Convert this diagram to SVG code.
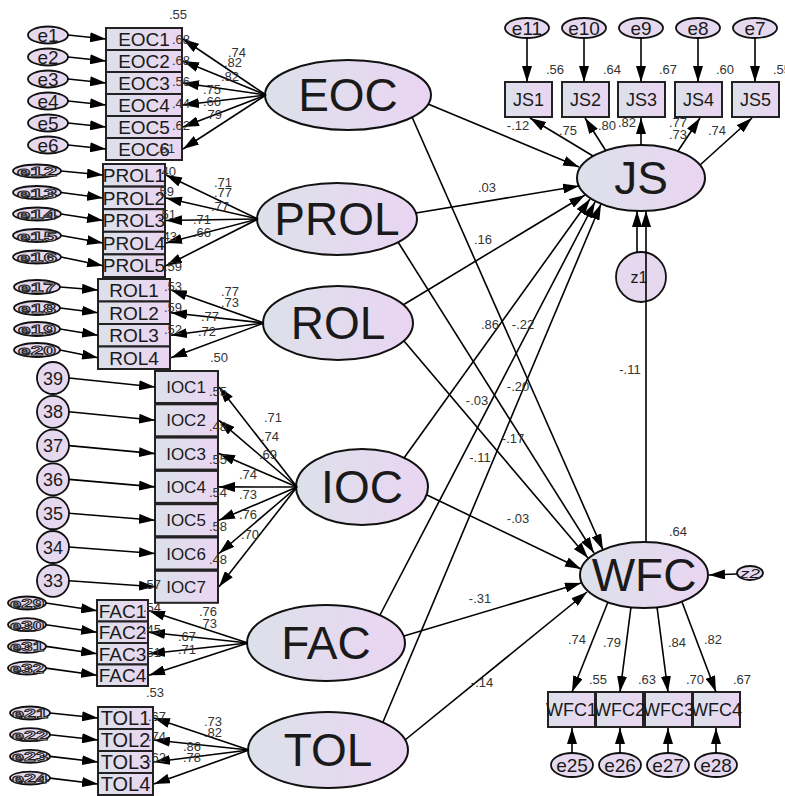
<svg xmlns="http://www.w3.org/2000/svg" width="785" height="796" viewBox="0 0 785 796">
<style>
text{font-family:"Liberation Sans",Arial,sans-serif;fill:#1a1a1a;text-anchor:middle}
.lat{fill:url(#g);stroke:#111;stroke-width:2}
.box{fill:url(#g);stroke:#222;stroke-width:2}
.err{fill:#e6d9ef;stroke:#111;stroke-width:1.8}
.big{font-size:46px}
.ind{font-size:19px}
.sq{font-size:13px;font-weight:bold;fill:#e9dcf2;stroke:#222;stroke-width:0.9}
.l{font-size:13px;fill:#333}
#conn line{stroke:#000;stroke-width:1.6;marker-end:url(#a)}
</style>
<defs>
<linearGradient id="g" x1="0" y1="0" x2="1" y2="0">
<stop offset="0" stop-color="#dce1ea"/>
<stop offset="1" stop-color="#ead5f2"/>
</linearGradient>
<marker id="a" viewBox="0 0 16 10" refX="16" refY="5" markerWidth="16" markerHeight="10" orient="auto" markerUnits="userSpaceOnUse">
<path d="M0,0L16,5L0,10z" fill="#000"/>
</marker>
</defs>
<rect width="785" height="796" fill="#fff"/>

<!-- EOC block -->
<g id="EOC1"><rect class="box" x="106" y="28" width="76" height="22"/><text class="ind" x="144" y="46">EOC1</text></g>
<g id="EOC2"><rect class="box" x="106" y="50" width="76" height="22"/><text class="ind" x="144" y="68">EOC2</text></g>
<g id="EOC3"><rect class="box" x="106" y="72" width="76" height="22"/><text class="ind" x="144" y="90">EOC3</text></g>
<g id="EOC4"><rect class="box" x="106" y="94" width="76" height="22"/><text class="ind" x="144" y="112">EOC4</text></g>
<g id="EOC5"><rect class="box" x="106" y="116" width="76" height="22"/><text class="ind" x="144" y="134">EOC5</text></g>
<g id="EOC6"><rect class="box" x="106" y="138" width="76" height="22"/><text class="ind" x="144" y="156">EOC6</text></g>
<g id="e1"><ellipse class="err" cx="48" cy="35" rx="20" ry="8.5"/><text class="ind" x="48" y="42">e1</text></g>
<g id="e2"><ellipse class="err" cx="48" cy="57" rx="20" ry="8.5"/><text class="ind" x="48" y="64">e2</text></g>
<g id="e3"><ellipse class="err" cx="48" cy="79" rx="20" ry="8.5"/><text class="ind" x="48" y="86">e3</text></g>
<g id="e4"><ellipse class="err" cx="48" cy="101" rx="20" ry="8.5"/><text class="ind" x="48" y="108">e4</text></g>
<g id="e5"><ellipse class="err" cx="48" cy="123" rx="20" ry="8.5"/><text class="ind" x="48" y="130">e5</text></g>
<g id="e6"><ellipse class="err" cx="48" cy="145" rx="20" ry="8.5"/><text class="ind" x="48" y="152">e6</text></g>

<!-- PROL block -->
<g id="PROL1"><rect class="box" x="103" y="164" width="62" height="22.6"/><text class="ind" x="134" y="182">PROL1</text></g>
<g id="PROL2"><rect class="box" x="103" y="186.6" width="62" height="22.6"/><text class="ind" x="134" y="205">PROL2</text></g>
<g id="PROL3"><rect class="box" x="103" y="209.2" width="62" height="22.6"/><text class="ind" x="134" y="227">PROL3</text></g>
<g id="PROL4"><rect class="box" x="103" y="231.8" width="62" height="22.6"/><text class="ind" x="134" y="250">PROL4</text></g>
<g id="PROL5"><rect class="box" x="103" y="254.4" width="62" height="22.6"/><text class="ind" x="134" y="272">PROL5</text></g>
<g id="e12"><ellipse class="err" cx="37" cy="171" rx="24" ry="6.5"/><text class="sq" x="37" y="176" textLength="40" lengthAdjust="spacingAndGlyphs">e12</text></g>
<g id="e13"><ellipse class="err" cx="37" cy="192.5" rx="24" ry="6.5"/><text class="sq" x="37" y="197.5" textLength="40" lengthAdjust="spacingAndGlyphs">e13</text></g>
<g id="e14"><ellipse class="err" cx="37" cy="214" rx="24" ry="6.5"/><text class="sq" x="37" y="219" textLength="40" lengthAdjust="spacingAndGlyphs">e14</text></g>
<g id="e15"><ellipse class="err" cx="37" cy="235.5" rx="24" ry="6.5"/><text class="sq" x="37" y="240.5" textLength="40" lengthAdjust="spacingAndGlyphs">e15</text></g>
<g id="e16"><ellipse class="err" cx="37" cy="257" rx="24" ry="6.5"/><text class="sq" x="37" y="262" textLength="40" lengthAdjust="spacingAndGlyphs">e16</text></g>

<!-- ROL block -->
<g id="ROL1"><rect class="box" x="98" y="279" width="72" height="22.5"/><text class="ind" x="134" y="297">ROL1</text></g>
<g id="ROL2"><rect class="box" x="98" y="301.5" width="72" height="22.5"/><text class="ind" x="134" y="320">ROL2</text></g>
<g id="ROL3"><rect class="box" x="98" y="324" width="72" height="22.5"/><text class="ind" x="134" y="342">ROL3</text></g>
<g id="ROL4"><rect class="box" x="98" y="346.5" width="72" height="22.5"/><text class="ind" x="134" y="365">ROL4</text></g>
<g id="e17"><ellipse class="err" cx="37" cy="287" rx="23" ry="7"/><text class="sq" x="37" y="292" textLength="38" lengthAdjust="spacingAndGlyphs">e17</text></g>
<g id="e18"><ellipse class="err" cx="37" cy="308" rx="23" ry="7"/><text class="sq" x="37" y="313" textLength="38" lengthAdjust="spacingAndGlyphs">e18</text></g>
<g id="e19"><ellipse class="err" cx="37" cy="329" rx="23" ry="7"/><text class="sq" x="37" y="334" textLength="38" lengthAdjust="spacingAndGlyphs">e19</text></g>
<g id="e20"><ellipse class="err" cx="37" cy="350" rx="23" ry="7"/><text class="sq" x="37" y="355" textLength="38" lengthAdjust="spacingAndGlyphs">e20</text></g>

<!-- IOC block -->
<g id="IOC1"><rect class="box" x="155" y="371" width="63" height="32"/><text class="ind" x="186" y="393" style="font-size:17px">IOC1</text></g>
<g id="IOC2"><rect class="box" x="155" y="404.3" width="63" height="32"/><text class="ind" x="186" y="426.3" style="font-size:17px">IOC2</text></g>
<g id="IOC3"><rect class="box" x="155" y="437.6" width="63" height="32"/><text class="ind" x="186" y="459.6" style="font-size:17px">IOC3</text></g>
<g id="IOC4"><rect class="box" x="155" y="470.9" width="63" height="32"/><text class="ind" x="186" y="492.9" style="font-size:17px">IOC4</text></g>
<g id="IOC5"><rect class="box" x="155" y="504.2" width="63" height="32"/><text class="ind" x="186" y="526.2" style="font-size:17px">IOC5</text></g>
<g id="IOC6"><rect class="box" x="155" y="537.5" width="63" height="32"/><text class="ind" x="186" y="559.5" style="font-size:17px">IOC6</text></g>
<g id="IOC7"><rect class="box" x="155" y="570.8" width="63" height="32"/><text class="ind" x="186" y="592.8" style="font-size:17px">IOC7</text></g>
<g id="c39"><circle class="err" cx="53" cy="378" r="16"/><text class="ind" x="53" y="384.5" style="font-size:18px">39</text></g>
<g id="c38"><circle class="err" cx="53" cy="411.8" r="16"/><text class="ind" x="53" y="418.3" style="font-size:18px">38</text></g>
<g id="c37"><circle class="err" cx="53" cy="445.6" r="16"/><text class="ind" x="53" y="452.1" style="font-size:18px">37</text></g>
<g id="c36"><circle class="err" cx="53" cy="479.4" r="16"/><text class="ind" x="53" y="485.9" style="font-size:18px">36</text></g>
<g id="c35"><circle class="err" cx="53" cy="513.2" r="16"/><text class="ind" x="53" y="519.7" style="font-size:18px">35</text></g>
<g id="c34"><circle class="err" cx="53" cy="547" r="16"/><text class="ind" x="53" y="553.5" style="font-size:18px">34</text></g>
<g id="c33"><circle class="err" cx="53" cy="580.8" r="16"/><text class="ind" x="53" y="587.3" style="font-size:18px">33</text></g>

<!-- FAC block -->
<g id="FAC1"><rect class="box" x="97" y="600" width="51" height="21.5"/><text class="ind" x="122.5" y="617.5">FAC1</text></g>
<g id="FAC2"><rect class="box" x="97" y="621.5" width="51" height="21.5"/><text class="ind" x="122.5" y="639">FAC2</text></g>
<g id="FAC3"><rect class="box" x="97" y="643" width="51" height="21.5"/><text class="ind" x="122.5" y="660.5">FAC3</text></g>
<g id="FAC4"><rect class="box" x="97" y="664.5" width="51" height="21.5"/><text class="ind" x="122.5" y="682">FAC4</text></g>
<g id="e29"><ellipse class="err" cx="27" cy="603" rx="19" ry="6.5"/><text class="sq" x="27" y="608" textLength="34" lengthAdjust="spacingAndGlyphs">e29</text></g>
<g id="e30"><ellipse class="err" cx="27" cy="624.7" rx="19" ry="6.5"/><text class="sq" x="27" y="629.7" textLength="34" lengthAdjust="spacingAndGlyphs">e30</text></g>
<g id="e31"><ellipse class="err" cx="27" cy="646.4" rx="19" ry="6.5"/><text class="sq" x="27" y="651.4" textLength="34" lengthAdjust="spacingAndGlyphs">e31</text></g>
<g id="e32"><ellipse class="err" cx="27" cy="668.1" rx="19" ry="6.5"/><text class="sq" x="27" y="673.1" textLength="34" lengthAdjust="spacingAndGlyphs">e32</text></g>

<!-- TOL block -->
<g id="TOL1"><rect class="box" x="98" y="707" width="55" height="22"/><text class="ind" x="125.5" y="725" style="font-size:20px">TOL1</text></g>
<g id="TOL2"><rect class="box" x="98" y="729" width="55" height="22"/><text class="ind" x="125.5" y="747" style="font-size:20px">TOL2</text></g>
<g id="TOL3"><rect class="box" x="98" y="751" width="55" height="22"/><text class="ind" x="125.5" y="769" style="font-size:20px">TOL3</text></g>
<g id="TOL4"><rect class="box" x="98" y="773" width="55" height="22"/><text class="ind" x="125.5" y="791" style="font-size:20px">TOL4</text></g>
<g id="e21"><ellipse class="err" cx="30" cy="713" rx="20" ry="6.5"/><text class="sq" x="30" y="718" textLength="36" lengthAdjust="spacingAndGlyphs">e21</text></g>
<g id="e22"><ellipse class="err" cx="30" cy="734.7" rx="20" ry="6.5"/><text class="sq" x="30" y="739.7" textLength="36" lengthAdjust="spacingAndGlyphs">e22</text></g>
<g id="e23"><ellipse class="err" cx="30" cy="756.4" rx="20" ry="6.5"/><text class="sq" x="30" y="761.4" textLength="36" lengthAdjust="spacingAndGlyphs">e23</text></g>
<g id="e24"><ellipse class="err" cx="30" cy="778.1" rx="20" ry="6.5"/><text class="sq" x="30" y="783.1" textLength="36" lengthAdjust="spacingAndGlyphs">e24</text></g>

<!-- Latent variables -->
<g id="EOC"><ellipse class="lat" cx="348" cy="95" rx="83" ry="35"/><text class="big" x="348" y="111">EOC</text></g>
<g id="PROL"><ellipse class="lat" cx="337" cy="219" rx="80" ry="36"/><text class="big" x="337" y="235">PROL</text></g>
<g id="ROL"><ellipse class="lat" cx="338" cy="323" rx="75" ry="37"/><text class="big" x="338" y="339">ROL</text></g>
<g id="IOC"><ellipse class="lat" cx="362" cy="487" rx="66" ry="38"/><text class="big" x="362" y="503">IOC</text></g>
<g id="FAC"><ellipse class="lat" cx="326" cy="643" rx="79" ry="38"/><text class="big" x="326" y="659">FAC</text></g>
<g id="TOL"><ellipse class="lat" cx="328" cy="750" rx="80" ry="38"/><text class="big" x="328" y="766">TOL</text></g>
<g id="JS"><ellipse class="lat" cx="641" cy="178" rx="64" ry="33"/><text class="big" x="641" y="194">JS</text></g>
<g id="WFC"><ellipse class="lat" cx="644" cy="575" rx="64" ry="33"/><text class="big" x="644" y="591">WFC</text></g>
<g id="z1"><circle class="err" cx="641" cy="277" r="25"/><text x="639" y="283" style="font-size:16px">z1</text></g>
<g id="z2"><ellipse class="err" cx="750" cy="573" rx="13" ry="7"/><text x="750" y="578" style="font-size:13px;font-style:italic" textLength="20" lengthAdjust="spacingAndGlyphs">z2</text></g>

<!-- JS indicators -->
<g id="JS1"><rect class="box" x="505" y="82" width="47" height="35"/><text x="528.5" y="106" style="font-size:18px">JS1</text></g>
<g id="JS2"><rect class="box" x="562" y="82" width="47" height="35"/><text x="585.5" y="106" style="font-size:18px">JS2</text></g>
<g id="JS3"><rect class="box" x="618" y="82" width="47" height="35"/><text x="641.5" y="106" style="font-size:18px">JS3</text></g>
<g id="JS4"><rect class="box" x="675" y="82" width="47" height="35"/><text x="698.5" y="106" style="font-size:18px">JS4</text></g>
<g id="JS5"><rect class="box" x="732" y="82" width="47" height="35"/><text x="755.5" y="106" style="font-size:18px">JS5</text></g>
<g id="e11"><ellipse class="err" cx="527" cy="28" rx="22" ry="10"/><text x="527" y="35" style="font-size:19px">e11</text></g>
<g id="e10"><ellipse class="err" cx="584" cy="28" rx="22" ry="10"/><text x="584" y="35" style="font-size:19px">e10</text></g>
<g id="e9"><ellipse class="err" cx="641" cy="28" rx="22" ry="10"/><text x="641" y="35" style="font-size:19px">e9</text></g>
<g id="e8"><ellipse class="err" cx="698" cy="28" rx="22" ry="10"/><text x="698" y="35" style="font-size:19px">e8</text></g>
<g id="e7"><ellipse class="err" cx="755" cy="28" rx="22" ry="10"/><text x="755" y="35" style="font-size:19px">e7</text></g>

<!-- WFC indicators -->
<g id="WFC1"><rect class="box" x="548" y="692" width="47" height="35"/><text x="571.5" y="716" style="font-size:18px">WFC1</text></g>
<g id="WFC2"><rect class="box" x="596" y="692" width="47" height="35"/><text x="619.5" y="716" style="font-size:18px">WFC2</text></g>
<g id="WFC3"><rect class="box" x="645" y="692" width="47" height="35"/><text x="668.5" y="716" style="font-size:18px">WFC3</text></g>
<g id="WFC4"><rect class="box" x="693" y="692" width="47" height="35"/><text x="716.5" y="716" style="font-size:18px">WFC4</text></g>
<g id="e25"><ellipse class="err" cx="572" cy="765" rx="21" ry="12"/><text x="572" y="772" style="font-size:19px">e25</text></g>
<g id="e26"><ellipse class="err" cx="620" cy="765" rx="21" ry="12"/><text x="620" y="772" style="font-size:19px">e26</text></g>
<g id="e27"><ellipse class="err" cx="668" cy="765" rx="21" ry="12"/><text x="668" y="772" style="font-size:19px">e27</text></g>
<g id="e28"><ellipse class="err" cx="716" cy="765" rx="21" ry="12"/><text x="716" y="772" style="font-size:19px">e28</text></g>

<g id="conn">
<!-- EOC -->
<line x1="68" y1="35" x2="106" y2="39"/><line x1="68" y1="57" x2="106" y2="61"/><line x1="68" y1="79" x2="106" y2="83"/>
<line x1="68" y1="101" x2="106" y2="105"/><line x1="68" y1="123" x2="106" y2="127"/><line x1="68" y1="145" x2="106" y2="149"/>
<line x1="266" y1="95" x2="183" y2="39"/><line x1="266" y1="95" x2="183" y2="61"/><line x1="266" y1="95" x2="183" y2="83"/>
<line x1="266" y1="95" x2="183" y2="105"/><line x1="266" y1="95" x2="183" y2="127"/><line x1="266" y1="95" x2="183" y2="149"/>
<!-- PROL -->
<line x1="61" y1="171" x2="103" y2="175"/><line x1="61" y1="192.5" x2="103" y2="198"/><line x1="61" y1="214" x2="103" y2="220.5"/>
<line x1="61" y1="235.5" x2="103" y2="243"/><line x1="61" y1="257" x2="103" y2="265.7"/>
<line x1="258" y1="219" x2="166" y2="175"/><line x1="258" y1="219" x2="166" y2="198"/><line x1="258" y1="219" x2="166" y2="220.5"/>
<line x1="258" y1="219" x2="166" y2="243"/><line x1="258" y1="219" x2="166" y2="265.7"/>
<!-- ROL -->
<line x1="60" y1="287" x2="98" y2="290"/><line x1="60" y1="308" x2="98" y2="312.7"/><line x1="60" y1="329" x2="98" y2="335.2"/><line x1="60" y1="350" x2="98" y2="357.7"/>
<line x1="264" y1="323" x2="171" y2="290"/><line x1="264" y1="323" x2="171" y2="312.7"/><line x1="264" y1="323" x2="171" y2="335.2"/><line x1="264" y1="323" x2="171" y2="357.7"/>
<!-- IOC -->
<line x1="69" y1="378" x2="155" y2="387"/><line x1="69" y1="411.8" x2="155" y2="420.3"/><line x1="69" y1="445.6" x2="155" y2="453.6"/>
<line x1="69" y1="479.4" x2="155" y2="486.9"/><line x1="69" y1="513.2" x2="155" y2="520.2"/><line x1="69" y1="547" x2="155" y2="553.5"/><line x1="69" y1="580.8" x2="155" y2="586.8"/>
<line x1="297" y1="487" x2="219" y2="387"/><line x1="297" y1="487" x2="219" y2="420.3"/><line x1="297" y1="487" x2="219" y2="453.6"/>
<line x1="297" y1="487" x2="219" y2="486.9"/><line x1="297" y1="487" x2="219" y2="520.2"/><line x1="297" y1="487" x2="219" y2="553.5"/><line x1="297" y1="487" x2="219" y2="586.8"/>
<!-- FAC -->
<line x1="46" y1="603" x2="97" y2="610.7"/><line x1="46" y1="624.7" x2="97" y2="632.2"/><line x1="46" y1="646.4" x2="97" y2="653.7"/><line x1="46" y1="668.1" x2="97" y2="675.2"/>
<line x1="248" y1="643" x2="149" y2="610.7"/><line x1="248" y1="643" x2="149" y2="632.2"/><line x1="248" y1="643" x2="149" y2="653.7"/><line x1="248" y1="643" x2="149" y2="675.2"/>
<!-- TOL -->
<line x1="50" y1="713" x2="98" y2="718"/><line x1="50" y1="734.7" x2="98" y2="740"/><line x1="50" y1="756.4" x2="98" y2="762"/><line x1="50" y1="778.1" x2="98" y2="784"/>
<line x1="249" y1="750" x2="154" y2="718"/><line x1="249" y1="750" x2="154" y2="740"/><line x1="249" y1="750" x2="154" y2="762"/><line x1="249" y1="750" x2="154" y2="784"/>
<!-- JS indicators -->
<line x1="527" y1="38" x2="527" y2="82"/><line x1="584" y1="38" x2="584" y2="82"/><line x1="641" y1="38" x2="641" y2="82"/><line x1="698" y1="38" x2="698" y2="82"/><line x1="755" y1="38" x2="755" y2="82"/>
<line x1="593" y1="156" x2="530" y2="118"/><line x1="606" y1="151" x2="585" y2="118"/><line x1="641" y1="145" x2="641" y2="118"/><line x1="678" y1="151" x2="700" y2="118"/><line x1="700" y1="165" x2="752" y2="118"/>
<!-- WFC indicators -->
<line x1="608" y1="602" x2="572" y2="692"/><line x1="631" y1="607" x2="620" y2="692"/><line x1="657" y1="607" x2="668" y2="692"/><line x1="682" y1="602" x2="716" y2="692"/>
<line x1="572" y1="753" x2="572" y2="728"/><line x1="620" y1="753" x2="620" y2="728"/><line x1="668" y1="753" x2="668" y2="728"/><line x1="716" y1="753" x2="716" y2="728"/>
<line x1="737" y1="574" x2="709" y2="575"/>
<!-- structural -->
<line x1="428" y1="104" x2="579" y2="167"/>
<line x1="416" y1="213" x2="579" y2="186"/>
<line x1="403" y1="305" x2="585" y2="195"/>
<line x1="404" y1="458" x2="590" y2="199"/>
<line x1="380" y1="615" x2="595" y2="202"/>
<line x1="383" y1="722" x2="601" y2="204"/>
<line x1="412" y1="117" x2="603" y2="550"/>
<line x1="398" y1="242" x2="594" y2="553"/>
<line x1="404" y1="341" x2="588" y2="558"/>
<line x1="427" y1="495" x2="581" y2="569"/>
<line x1="404" y1="636" x2="581" y2="583"/>
<line x1="405" y1="740" x2="587" y2="592"/>
<line x1="646" y1="542" x2="646" y2="211"/>
<line x1="637" y1="252" x2="637" y2="211"/>
</g>

<g id="labels">
<text class="l" x="178" y="19">.55</text>
<text class="l" x="181" y="44">.68</text><text class="l" x="181" y="65">.68</text><text class="l" x="181" y="86">.56</text>
<text class="l" x="181" y="108">.44</text><text class="l" x="181" y="130">.62</text><text class="l" x="166" y="153">.51</text>
<text class="l" x="237" y="57">.74</text><text class="l" x="233" y="67">.82</text><text class="l" x="230" y="81">.82</text>
<text class="l" x="212" y="94">.75</text><text class="l" x="212" y="106">.66</text><text class="l" x="213" y="119">.79</text>
<text class="l" x="167" y="176">.40</text><text class="l" x="165" y="196">.59</text><text class="l" x="167" y="219">.51</text>
<text class="l" x="168" y="241">.43</text><text class="l" x="173" y="271">.59</text>
<text class="l" x="223" y="187">.71</text><text class="l" x="223" y="197">.77</text><text class="l" x="220" y="211">.77</text>
<text class="l" x="202" y="224">.71</text><text class="l" x="202" y="237">.66</text>
<text class="l" x="173" y="291">.53</text><text class="l" x="173" y="312">.59</text><text class="l" x="173" y="334">.52</text>
<text class="l" x="230" y="296">.77</text><text class="l" x="230" y="307">.73</text><text class="l" x="210" y="321">.77</text><text class="l" x="207" y="336">.72</text>
<text class="l" x="219" y="362">.50</text>
<text class="l" x="218" y="396">.55</text><text class="l" x="218" y="431">.48</text><text class="l" x="218" y="464">.55</text>
<text class="l" x="218" y="497">.54</text><text class="l" x="218" y="531">.58</text><text class="l" x="218" y="564">.48</text><text class="l" x="152" y="589">.57</text>
<text class="l" x="273" y="422">.71</text><text class="l" x="270" y="441">.74</text><text class="l" x="268" y="459">.69</text>
<text class="l" x="248" y="479">.74</text><text class="l" x="248" y="499">.73</text><text class="l" x="248" y="519">.76</text><text class="l" x="250" y="539">.70</text>
<text class="l" x="152" y="612">.54</text><text class="l" x="152" y="634">.45</text><text class="l" x="152" y="657">.51</text>
<text class="l" x="208" y="616">.76</text><text class="l" x="208" y="628">.73</text><text class="l" x="187" y="641">.67</text><text class="l" x="187" y="654">.71</text>
<text class="l" x="155" y="697">.53</text>
<text class="l" x="157" y="721">.67</text><text class="l" x="157" y="741">.74</text><text class="l" x="157" y="762">.62</text>
<text class="l" x="213" y="726">.73</text><text class="l" x="213" y="737">.82</text><text class="l" x="192" y="751">.86</text><text class="l" x="192" y="762">.78</text>
<text class="l" x="555" y="74">.56</text><text class="l" x="612" y="74">.64</text><text class="l" x="668" y="74">.67</text><text class="l" x="725" y="74">.60</text><text class="l" x="782" y="74">.55</text>
<text class="l" x="518" y="130">-.12</text><text class="l" x="568" y="135">.75</text><text class="l" x="607" y="130">.80</text><text class="l" x="627" y="127">.82</text>
<text class="l" x="678" y="127">.77</text><text class="l" x="678" y="139">.73</text><text class="l" x="717" y="135">.74</text>
<text class="l" x="487" y="192">.03</text><text class="l" x="483" y="244">.16</text>
<text class="l" x="490" y="329">.86</text><text class="l" x="523" y="329">-.22</text>
<text class="l" x="518" y="391">-.20</text><text class="l" x="477" y="405">-.03</text>
<text class="l" x="513" y="443">-.17</text><text class="l" x="480" y="462">-.11</text>
<text class="l" x="518" y="523">-.03</text><text class="l" x="480" y="603">-.31</text><text class="l" x="482" y="687">-.14</text>
<text class="l" x="630" y="374">-.11</text>
<text class="l" x="678" y="536">.64</text>
<text class="l" x="577" y="644">.74</text><text class="l" x="612" y="647">.79</text><text class="l" x="677" y="647">.84</text><text class="l" x="713" y="644">.82</text>
<text class="l" x="598" y="684">.55</text><text class="l" x="647" y="684">.63</text><text class="l" x="695" y="684">.70</text><text class="l" x="742" y="684">.67</text>
</g>
</svg>
